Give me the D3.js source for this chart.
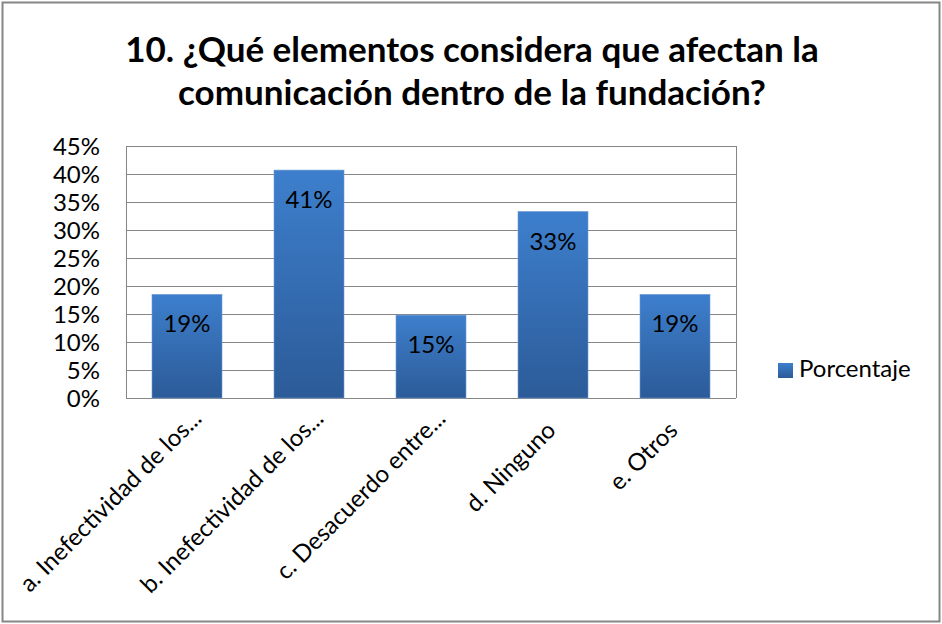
<!DOCTYPE html>
<html><head><meta charset="utf-8">
<script src="https://cdn.jsdelivr.net/npm/d3@7"></script>
<style>body{margin:0;background:#fff}svg{display:block}</style>
</head><body>
<script>
const categories = ["a. Inefectividad de los...", "b. Inefectividad de los...", "c. Desacuerdo entre...", "d. Ninguno", "e. Otros"];
const values = [0.185, 0.407, 0.148, 0.333, 0.185];
const valueLabels = ["19%", "41%", "15%", "33%", "19%"];
const yTicks = [0, 0.05, 0.10, 0.15, 0.20, 0.25, 0.30, 0.35, 0.40, 0.45];
const seriesName = "Porcentaje";
const titleLines = ["10. ¿Qué elementos considera que afectan la", "comunicación dentro de la fundación?"];

const W = 942, H = 624;
const FONT = "Lato, 'Open Sans', sans-serif";
const svg = d3.select("body").append("svg").attr("width", W).attr("height", H);

const defs = svg.append("defs");
const grad = defs.append("linearGradient").attr("id", "barGrad").attr("x1", 0).attr("y1", 0).attr("x2", 0).attr("y2", 1);
grad.append("stop").attr("offset", "0%").attr("stop-color", "#3d7fcd");
grad.append("stop").attr("offset", "100%").attr("stop-color", "#2c5b98");

svg.append("rect").attr("x", 0).attr("y", 0).attr("width", W).attr("height", H).attr("fill", "#fff");
svg.append("rect").attr("x", 2.5).attr("y", 2.5).attr("width", W - 5).attr("height", H - 5)
  .attr("fill", "none").attr("stroke", "#868686").attr("stroke-width", 2);

const title = svg.append("text").attr("text-anchor", "middle").attr("font-family", FONT)
  .attr("font-weight", "bold").attr("font-size", 35).attr("fill", "#000");
titleLines.forEach((t, i) => title.append("tspan").attr("x", 472).attr("y", 62 + i * 43).text(t));

const x0 = 126, x1 = 736, yTop = 146, yBot = 398;
const x = d3.scaleBand().domain(categories).range([x0, x1]).paddingInner(52 / 122).paddingOuter(26 / 122);
const y = d3.scaleLinear().domain([0, 0.45]).range([yBot, yTop]);

// grid
svg.append("g").selectAll("line").data(yTicks).join("line")
  .attr("x1", x0).attr("x2", x1).attr("y1", d => Math.round(y(d)) + 0.5).attr("y2", d => Math.round(y(d)) + 0.5)
  .attr("stroke", "#868686").attr("stroke-width", 1);
svg.append("line").attr("x1", x0 + 0.5).attr("x2", x0 + 0.5).attr("y1", yTop).attr("y2", yBot)
  .attr("stroke", "#868686");
svg.append("line").attr("x1", x1 + 0.5).attr("x2", x1 + 0.5).attr("y1", yTop).attr("y2", yBot)
  .attr("stroke", "#868686");

// y axis labels
const yAxis = d3.axisLeft(y).tickValues(yTicks).tickFormat(d3.format(".0%")).tickSize(0).tickPadding(26);
const gy = svg.append("g").attr("transform", `translate(${x0},0)`).call(yAxis);
gy.select(".domain").remove();
gy.selectAll("text").attr("font-family", FONT).attr("font-size", 24).attr("fill", "#000").attr("dy", "0.36em");

// bars
svg.append("g").selectAll("rect").data(categories).join("rect")
  .attr("x", d => x(d)).attr("width", x.bandwidth())
  .attr("y", (d, i) => y(values[i])).attr("height", (d, i) => y(0) - y(values[i]))
  .attr("fill", "url(#barGrad)").attr("stroke", "#6f9bd3").attr("stroke-width", 0.6);

// value labels
svg.append("g").selectAll("text").data(categories).join("text")
  .attr("x", d => x(d) + x.bandwidth() / 2).attr("y", (d, i) => y(values[i]) + 38)
  .attr("text-anchor", "middle").attr("font-family", FONT).attr("font-size", 24).attr("fill", "#000")
  .text((d, i) => valueLabels[i]);

// x axis labels
const xAxis = d3.axisBottom(x).tickSize(0).tickPadding(0);
const gx = svg.append("g").attr("transform", `translate(0,${yBot})`).call(xAxis);
gx.select(".domain").remove();
gx.selectAll("text").attr("font-family", FONT).attr("font-size", 24).attr("fill", "#000")
  .attr("text-anchor", "end").attr("dy", 0)
  .attr("dx", d => d.endsWith("...") ? 17 : 0)
  .attr("transform", "translate(4,34) rotate(-45)");

// legend
const lg = svg.append("g").attr("transform", "translate(778,363)");
lg.append("rect").attr("width", 15).attr("height", 15).attr("fill", "url(#barGrad)");
lg.append("text").attr("x", 21).attr("y", 14).attr("font-family", FONT).attr("font-size", 24).attr("fill", "#000").text(seriesName);
</script>
</body></html>
